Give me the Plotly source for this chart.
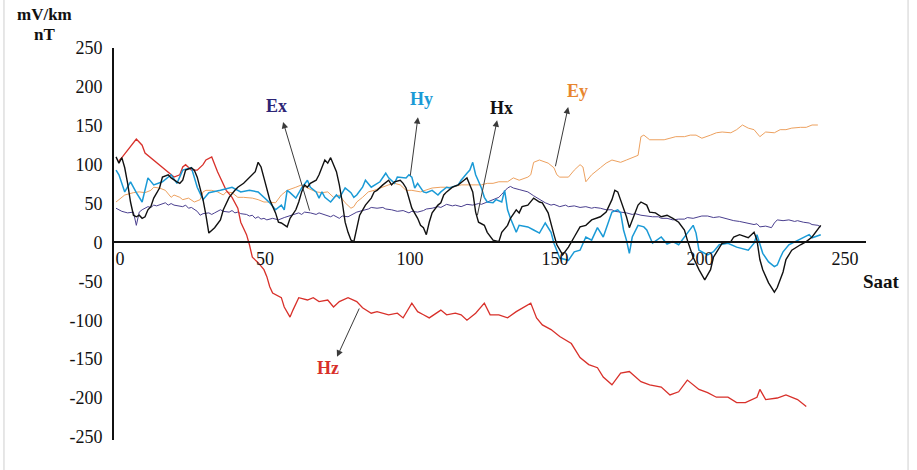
import plotly.graph_objects as go

# ---- hourly magnetotelluric time series (Saat = hours) ----
ex_hours = [0, 2, 4, 6, 7, 8, 9, 10, 11, 12,
            13, 14, 16, 17, 18, 19, 20, 22, 23, 24,
            25, 26, 27, 28, 29, 30, 32, 33, 34, 35,
            36, 37, 39, 40, 41, 42, 43, 45, 46, 47,
            48, 49, 50, 51, 52, 54, 56, 58, 59, 61,
            63, 64, 65, 67, 69, 70, 72, 74, 75, 77,
            78, 80, 81, 83, 85, 87, 88, 90, 92, 93,
            95, 97, 99, 101, 102, 104, 106, 107, 109, 111,
            112, 114, 116, 117, 119, 121, 123, 125, 126, 128,
            130, 132, 133, 134, 135, 136, 137, 139, 140, 142,
            144, 146, 147, 148, 150, 151, 153, 155, 156, 158,
            160, 162, 164, 165, 167, 169, 171, 172, 174, 176,
            178, 179, 181, 183, 185, 187, 188, 190, 192, 194,
            196, 197, 199, 201, 202, 204, 206, 208, 210, 211,
            213, 215, 216, 218, 220, 221, 222, 224, 226, 227,
            228, 230, 232, 234, 235, 237, 239, 240, 242, 243]
ex_vals = [44, 40, 38, 39, 22, 39, 42, 44, 46, 45,
           48, 47, 49, 51, 48, 50, 48, 47, 46, 48,
           44, 45, 42, 40, 35, 37, 38, 36, 38, 40,
           42, 40, 39, 41, 38, 39, 37, 36, 34, 35,
           31, 33, 30, 31, 29, 31, 29, 32, 33, 35,
           38, 36, 39, 38, 36, 38, 35, 33, 35, 31,
           34, 33, 35, 39, 41, 43, 45, 44, 45, 43,
           42, 40, 41, 38, 40, 39, 41, 43, 44, 46,
           45, 49, 47, 48, 46, 49, 48, 50, 49, 52,
           55, 58, 62, 66, 70, 72, 70, 68, 67, 65,
           60, 55, 53, 51, 48, 49, 46, 48, 46, 47,
           45, 46, 44, 45, 44, 42, 42, 40, 39, 38,
           36, 37, 35, 34, 33, 33, 31, 31, 29, 30,
           30, 32, 31, 33, 34, 34, 32, 33, 31, 30,
           28, 27, 26, 25, 23, 24, 20, 21, 19, 25,
           29, 28, 29, 27, 28, 26, 25, 23, 22, 20]

ey_hours = [0, 1, 3, 6, 8, 10, 12, 13, 15, 17,
            19, 20, 22, 23, 25, 27, 29, 30, 31, 33,
            35, 37, 38, 40, 42, 44, 47, 49, 51, 52,
            55, 57, 59, 62, 64, 66, 69, 71, 73, 75,
            77, 79, 81, 82, 83, 85, 87, 89, 91, 94,
            96, 98, 100, 102, 105, 107, 109, 112, 114, 116,
            119, 121, 123, 126, 128, 130, 132, 135, 137, 139,
            142, 143, 144, 146, 149, 151, 152, 153, 156, 158,
            160, 161, 162, 163, 164, 167, 169, 171, 174, 176,
            178, 180, 181, 182, 184, 187, 189, 191, 193, 196,
            198, 200, 202, 205, 207, 209, 212, 214, 216, 218,
            220, 222, 224, 227, 229, 231, 233, 236, 238, 240,
            242]
ey_vals = [52, 55, 61, 64, 65, 64, 67, 71, 70, 67,
           58, 61, 58, 55, 57, 52, 55, 65, 67, 67,
           65, 61, 65, 64, 58, 58, 57, 55, 52, 52,
           51, 61, 67, 71, 74, 70, 65, 64, 65, 58,
           61, 51, 44, 46, 52, 58, 65, 67, 70, 74,
           76, 74, 67, 67, 65, 67, 70, 71, 71, 71,
           74, 74, 74, 74, 76, 76, 78, 78, 83, 80,
           84, 87, 103, 106, 102, 96, 87, 84, 84, 93,
           100, 97, 78, 83, 87, 96, 102, 106, 103, 106,
           109, 112, 136, 138, 132, 132, 132, 134, 136, 136,
           138, 138, 134, 138, 141, 142, 141, 145, 151, 147,
           145, 136, 142, 141, 145, 145, 147, 148, 148, 151,
           151]

hx_hours = [0, 1, 2, 3, 4, 5, 6, 7, 8, 9,
            10, 11, 12, 13, 15, 16, 18, 19, 21, 22,
            23, 24, 26, 27, 28, 29, 30, 31, 32, 34,
            36, 37, 39, 41, 42, 44, 46, 48, 49, 50,
            51, 52, 53, 55, 56, 57, 58, 59, 60, 62,
            63, 64, 65, 66, 67, 69, 70, 71, 72, 73,
            74, 76, 77, 78, 79, 80, 81, 82, 83, 84,
            86, 88, 89, 90, 92, 94, 95, 96, 98, 99,
            100, 101, 102, 104, 105, 106, 107, 108, 109, 111,
            112, 113, 114, 116, 118, 120, 121, 123, 124, 125,
            127, 128, 130, 132, 133, 135, 136, 138, 139, 140,
            142, 144, 146, 147, 149, 151, 152, 154, 156, 158,
            160, 162, 164, 167, 169, 171, 172, 173, 174, 176,
            177, 178, 180, 181, 183, 184, 186, 188, 190, 192,
            194, 196, 197, 199, 201, 203, 205, 206, 208, 209,
            212, 213, 215, 218, 220, 221, 222, 223, 225, 227,
            228, 230, 231, 233, 236, 238, 240, 242, 243]
hx_vals = [110, 102, 109, 96, 76, 52, 35, 33, 35, 31,
           33, 42, 46, 57, 70, 84, 87, 83, 78, 76,
           80, 93, 96, 93, 84, 71, 55, 35, 12, 19,
           29, 42, 58, 67, 71, 76, 83, 91, 103, 97,
           83, 67, 55, 38, 26, 25, 22, 20, 31, 42,
           52, 65, 74, 71, 76, 80, 87, 96, 106, 102,
           109, 91, 74, 52, 26, 13, 3, 1, 19, 35,
           48, 57, 65, 67, 74, 80, 74, 78, 80, 76,
           70, 57, 44, 31, 22, 19, 10, 26, 38, 48,
           51, 61, 65, 71, 74, 80, 83, 65, 39, 26,
           22, 13, 3, 1, 13, 22, 31, 42, 38, 46,
           48, 57, 52, 51, 38, 10, -3, -16, -6, 7,
           20, 22, 29, 33, 39, 55, 67, 65, 55, 33,
           19, 29, 48, 52, 48, 39, 38, 33, 35, 31,
           26, 16, 3, -19, -35, -48, -35, -19, -6, -1,
           1, 7, 10, 6, 13, 3, -22, -35, -52, -64,
           -58, -38, -22, -10, -3, 1, 7, 16, 22]

hy_hours = [0, 1, 3, 5, 7, 9, 11, 13, 16, 19,
            21, 23, 26, 28, 30, 32, 36, 40, 43, 46,
            49, 51, 53, 55, 57, 58, 59, 60, 62, 64,
            66, 67, 69, 70, 71, 72, 74, 76, 77, 79,
            81, 82, 83, 85, 86, 88, 90, 91, 93, 94,
            96, 97, 100, 101, 102, 103, 104, 106, 107, 109,
            111, 112, 114, 115, 118, 119, 121, 122, 123, 124,
            126, 127, 128, 130, 131, 133, 134, 135, 136, 137,
            138, 139, 142, 144, 146, 148, 150, 151, 153, 156,
            158, 160, 162, 164, 166, 168, 170, 171, 173, 174,
            175, 176, 177, 178, 180, 182, 183, 185, 188, 190,
            192, 194, 197, 199, 200, 201, 204, 206, 208, 211,
            214, 218, 220, 221, 223, 225, 227, 228, 229, 230,
            232, 233, 235, 237, 239, 240, 243]
hy_vals = [93, 87, 65, 78, 64, 52, 83, 74, 78, 87,
           76, 93, 96, 71, 55, 64, 67, 71, 65, 67,
           65, 58, 51, 42, 48, 42, 67, 64, 57, 70,
           80, 71, 65, 57, 65, 58, 52, 61, 57, 70,
           64, 58, 61, 71, 80, 71, 76, 78, 89, 83,
           76, 84, 83, 87, 84, 70, 76, 65, 64, 67,
           61, 65, 71, 70, 74, 80, 89, 93, 103, 87,
           70, 58, 52, 51, 55, 52, 67, 42, 31, 22,
           13, 22, 20, 16, 12, 25, 13, -1, -20, -23,
           -12, -10, 7, 3, 19, 7, 29, 39, 42, 38,
           16, 3, -14, 7, 22, 20, 16, -1, 7, -2,
           1, -3, 12, 22, 12, -10, -16, -12, -3, -1,
           -6, -10, -1, 10, -14, -25, -31, -29, -20, -12,
           -3, -1, 3, 6, 10, 6, 10]

hz_hours = [1, 2, 7, 9, 10, 12, 14, 16, 18, 20,
            22, 23, 24, 26, 28, 30, 31, 33, 35, 37,
            38, 40, 42, 43, 45, 46, 47, 49, 51, 52,
            53, 54, 57, 58, 60, 61, 63, 66, 68, 70,
            73, 75, 77, 80, 83, 85, 88, 90, 92, 94,
            97, 99, 102, 104, 106, 108, 112, 114, 117, 119,
            121, 124, 127, 129, 132, 135, 138, 143, 145, 147,
            150, 153, 157, 160, 163, 166, 168, 171, 174, 177,
            181, 184, 188, 191, 194, 197, 201, 204, 207, 211,
            214, 217, 221, 222, 224, 228, 231, 235, 238]
hz_vals = [105, 109, 133, 125, 115, 109, 103, 97, 91, 84,
           87, 97, 100, 93, 93, 100, 106, 110, 91, 76,
           67, 58, 44, 26, 10, -3, -19, -26, -35, -44,
           -57, -65, -71, -83, -96, -87, -71, -74, -71, -76,
           -74, -83, -76, -71, -76, -84, -91, -89, -91, -93,
           -91, -97, -78, -89, -93, -97, -87, -93, -91, -93,
           -100, -91, -78, -93, -93, -97, -89, -78, -97, -106,
           -112, -121, -130, -148, -157, -161, -173, -183, -168, -166,
           -179, -183, -186, -196, -192, -177, -189, -193, -199, -199,
           -206, -206, -199, -189, -202, -200, -196, -202, -211]

x_ticks = [0, 50, 100, 150, 200, 250]
y_ticks = [250, 200, 150, 100, 50, 0, -50, -100, -150, -200, -250]

SERIF = "Liberation Serif"
C_EX, C_EY, C_HX, C_HY, C_HZ = "#4a3f8f", "#eda15f", "#111111", "#1a9ad6", "#d8302a"

fig = go.Figure()
series = [
    (ey_hours, ey_vals, C_EY, 1.0),
    (ex_hours, ex_vals, C_EX, 1.0),
    (hz_hours, hz_vals, C_HZ, 1.3),
    (hy_hours, hy_vals, C_HY, 1.5),
    (hx_hours, hx_vals, C_HX, 1.4),
]
for hrs, vals, col, w in series:
    fig.add_trace(go.Scatter(x=hrs, y=vals, mode="lines",
                             line=dict(color=col, width=w),
                             showlegend=False, hoverinfo="skip"))

# series labels and the arrows that tie them to their curves
labels = [
    ("Ex", "#2d2575", 55.2, 175, (57.6, 155), (66.9, 39)),
    ("Hy", C_HY, 105.2, 184, (104.1, 161), (101.4, 84)),
    ("Hx", C_HX, 132.8, 173, (131.4, 157), (124.5, 33)),
    ("Ey", "#e8862f", 159.0, 195, (155.9, 174), (151.4, 96)),
    ("Hz", C_HZ, 73.1, -161, (76.2, -147), (84.1, -83)),
]
for txt, col, lx, ly, head, tail in labels:
    fig.add_annotation(x=lx, y=ly, text=txt, showarrow=False,
                       font=dict(family=SERIF, size=18, color=col, weight="bold"))
    fig.add_annotation(x=head[0], y=head[1], ax=tail[0], ay=tail[1],
                       xref="x", yref="y", axref="x", ayref="y", text="",
                       showarrow=True, arrowhead=2, arrowsize=1.3,
                       arrowwidth=1, arrowcolor="#3a3a3a", standoff=0)

# unit labels
unit_font = dict(family=SERIF, size=17, color="#111", weight="bold")
fig.add_annotation(xref="paper", yref="paper", x=-0.092, y=1.086, text="mV/km",
                   showarrow=False, xanchor="center", yanchor="middle",
                   font=unit_font, borderpad=0)
fig.add_annotation(xref="paper", yref="paper", x=-0.092, y=1.034, text="nT",
                   showarrow=False, xanchor="center", yanchor="middle",
                   font=unit_font, borderpad=0)
fig.add_annotation(xref="paper", yref="paper", x=1.02, y=0.405, text="Saat",
                   showarrow=False, xanchor="center", yanchor="middle",
                   font=dict(family=SERIF, size=19, color="#111", weight="bold"))

# thin frame lines at the picture edges
for xp in (-0.1463, 1.0559):
    fig.add_shape(type="line", xref="paper", yref="paper",
                  x0=xp, x1=xp, y0=-0.1, y1=1.15,
                  line=dict(color="#cfcfcf", width=1))

y_lo, y_hi = -254, 250
fig.update_layout(
    width=917, height=470,
    margin=dict(l=114, r=51, t=48, b=30),
    paper_bgcolor="white", plot_bgcolor="white",
    xaxis=dict(range=[-0.7, 258.6], anchor="free",
               position=(0 - y_lo) / (y_hi - y_lo),
               showline=True, linecolor="#111", linewidth=2,
               showgrid=False, zeroline=False, ticks="",
               tickvals=x_ticks, ticktext=[str(v) for v in x_ticks],
               ticklabelshift=4, ticklabelstandoff=0,
               tickfont=dict(family=SERIF, size=18, color="#111")),
    yaxis=dict(range=[y_lo, y_hi], showline=True, linecolor="#111",
               linewidth=2, showgrid=False, zeroline=False, ticks="",
               tickvals=y_ticks, ticktext=[str(v) for v in y_ticks],
               ticklabelstandoff=6,
               tickfont=dict(family=SERIF, size=18, color="#111")),
)

fig.write_html("out.html")
